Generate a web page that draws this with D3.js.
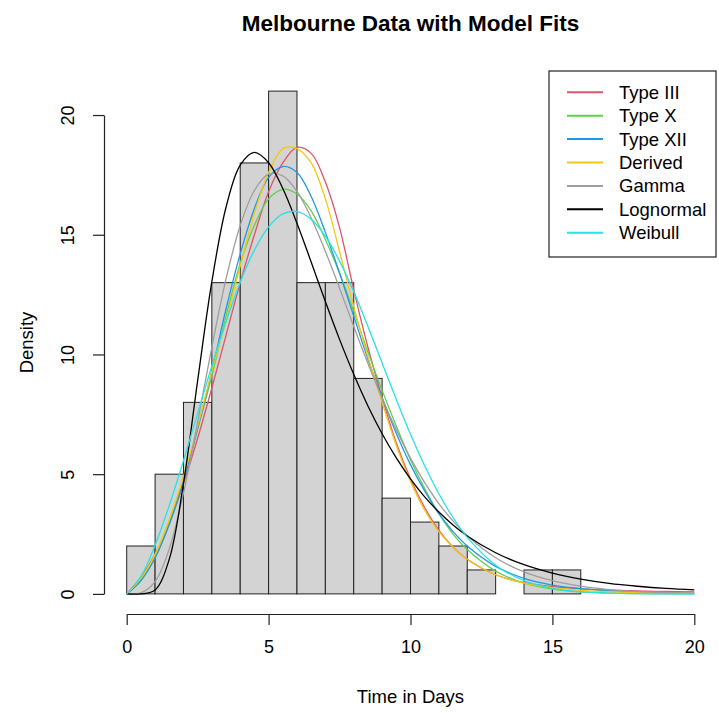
<!DOCTYPE html>
<html>
<head>
<meta charset="utf-8">
<script src="https://cdn.jsdelivr.net/npm/d3@7"></script>
<style>
  body { margin: 0; background: white; }
  text { font-family: "Liberation Sans", Arial, sans-serif; fill: black; }
</style>
</head>
<body>
<div id="chart"></div>
<script>
// histogram bins (days) and heights
var binStarts = [0, 1, 2, 3, 4, 5, 6, 7, 8, 9, 10, 11, 12, 13, 14, 15];
var binHeights = [2, 5, 8, 13, 18, 21, 13, 13, 9, 4, 3, 2, 1, 0, 1, 1];

var tGrid = [0, 0.5, 1, 1.5, 2, 2.5, 3, 3.5, 4, 4.5, 5, 5.5, 6, 6.5, 7, 7.5, 8, 8.5, 9, 9.5, 10, 10.5, 11, 11.5, 12,
             13, 14, 15, 16, 17, 18, 19, 20];

var typeIII = [0, 0.7, 1.65, 2.95, 4.6, 6.5, 8.6, 10.8, 13.0, 15.0, 16.8, 18.0, 18.65, 18.4, 17.2, 15.3, 12.7, 10.3, 8.2, 6.3, 4.8, 3.6, 2.65, 1.95, 1.45,
               0.8, 0.47, 0.3, 0.21, 0.16, 0.12, 0.1, 0.08];
var typeX = [0, 0.6, 1.6, 3.0, 4.8, 6.9, 9.1, 11.6, 13.8, 15.4, 16.5, 16.9, 16.7, 16.0, 14.8, 13.4, 11.8, 10.1, 8.5, 7.0, 5.6, 4.4, 3.35, 2.5, 1.85,
             0.95, 0.45, 0.2, 0.08, 0.03, 0.01, 0, 0];
var typeXII = [0, 0.55, 1.5, 2.9, 4.7, 6.9, 9.3, 11.9, 14.2, 16.1, 17.4, 17.85, 17.6, 16.6, 15.1, 13.4, 11.6, 9.8, 8.2, 6.7, 5.4, 4.3, 3.35, 2.6, 2.0,
               1.15, 0.65, 0.37, 0.22, 0.13, 0.08, 0.05, 0.03];
var derived = [0, 0.65, 1.65, 3.1, 4.9, 7.0, 9.3, 11.4, 13.7, 15.9, 17.6, 18.6, 18.6, 18.0, 16.5, 14.3, 12.0, 9.9, 8.0, 6.2, 4.7, 3.5, 2.6, 1.95, 1.45,
               0.8, 0.45, 0.26, 0.15, 0.09, 0.06, 0.04, 0.03];
var gammaFit = [0, 0.04, 0.51, 1.88, 4.21, 7.18, 10.31, 13.16, 15.39, 16.85, 17.53, 17.46, 16.81, 15.70, 14.31, 12.77, 11.17, 9.62, 8.17, 6.85, 5.67, 4.65, 3.77, 3.04, 2.43,
                1.51, 0.92, 0.55, 0.32, 0.18, 0.10, 0.06, 0.03];
var lognormal = [0, 0, 0.16, 1.45, 4.61, 8.91, 13.04, 16.15, 17.91, 18.44, 18.01, 16.93, 15.48, 13.86, 12.21, 10.63, 9.17, 7.85, 6.69, 5.68, 4.80, 4.05, 3.42, 2.88, 2.42,
                 1.72, 1.22, 0.87, 0.62, 0.44, 0.32, 0.23, 0.17];
var weibull = [0, 0.72, 2.03, 3.69, 5.56, 7.54, 9.52, 11.37, 13.02, 14.36, 15.33, 15.87, 15.97, 15.65, 14.94, 13.90, 12.62, 11.17, 9.64, 8.12, 6.67, 5.35, 4.18, 3.18, 2.36,
               1.20, 0.55, 0.23, 0.08, 0.03, 0.01, 0, 0];

var seriesNames = ["Type III", "Type X", "Type XII", "Derived", "Gamma", "Lognormal", "Weibull"];
var seriesValues = [typeIII, typeX, typeXII, derived, gammaFit, lognormal, weibull];
var seriesColors = ["#DF536B", "#61D04F", "#2297E6", "#F5C710", "#9E9E9E", "#000000", "#28E2E5"];

var xTicks = [0, 5, 10, 15, 20];
var yTicks = [0, 5, 10, 15, 20];

var width = 719, height = 713;

var svg = d3.select("#chart").append("svg")
    .attr("width", width)
    .attr("height", height);

svg.append("rect")
    .attr("width", width)
    .attr("height", height)
    .attr("fill", "white");

// R style plot region: data range plus 4% each side
var x = d3.scaleLinear().domain([-0.8, 20.8]).range([104, 717]);
var y = d3.scaleLinear().domain([-0.84, 21.84]).range([614, 71]);

// histogram bars (empty bin is skipped)
svg.append("g").selectAll("rect")
    .data(binStarts.filter(function(d, i) { return binHeights[i] > 0; }))
    .enter().append("rect")
    .attr("x", function(d) { return x(d); })
    .attr("y", function(d) { return y(binHeights[d]); })
    .attr("width", function(d) { return x(d + 1) - x(d); })
    .attr("height", function(d) { return y(0) - y(binHeights[d]); })
    .attr("fill", "#D3D3D3")
    .attr("stroke", "#222")
    .attr("stroke-width", 1);

// fitted curves
var line = d3.line()
    .x(function(d, i) { return x(tGrid[i]); })
    .y(function(d) { return y(d); })
    .curve(d3.curveCatmullRom.alpha(0.5));

svg.append("g").selectAll("path")
    .data(seriesValues)
    .enter().append("path")
    .attr("d", line)
    .attr("fill", "none")
    .attr("stroke", function(d, i) { return seriesColors[i]; })
    .attr("stroke-width", 1.3);

// x axis (only from 0 to 20 like R)
var xAxisScale = x.copy().domain([0, 20]).range([x(0), x(20)]);
var xAxisG = svg.append("g")
    .attr("transform", "translate(0," + y.range()[0] + ")")
    .call(d3.axisBottom(xAxisScale).tickValues(xTicks).tickSizeInner(11).tickSizeOuter(0));
xAxisG.selectAll("text")
    .attr("y", 39)
    .attr("dy", 0)
    .style("font-size", "18px");

// y axis
var yAxisScale = y.copy().domain([0, 20]).range([y(0), y(20)]);
var yAxisG = svg.append("g")
    .attr("transform", "translate(" + x.range()[0] + ",0)")
    .call(d3.axisLeft(yAxisScale).tickValues(yTicks).tickSizeInner(11).tickSizeOuter(0));
yAxisG.selectAll(".tick text")
    .attr("x", 0)
    .attr("dy", 0)
    .attr("text-anchor", "middle")
    .attr("transform", "translate(-30,0) rotate(-90)")
    .style("font-size", "18px");

svg.selectAll(".domain, .tick line").attr("stroke", "#222").attr("stroke-width", 1.2);

// titles
svg.append("text")
    .attr("x", (x.range()[0] + x.range()[1]) / 2)
    .attr("y", 31)
    .attr("text-anchor", "middle")
    .style("font-size", "22.5px")
    .style("font-weight", "bold")
    .text("Melbourne Data with Model Fits");

svg.append("text")
    .attr("x", (x.range()[0] + x.range()[1]) / 2)
    .attr("y", 703)
    .attr("text-anchor", "middle")
    .style("font-size", "18.5px")
    .text("Time in Days");

svg.append("text")
    .attr("transform", "translate(33," + ((y.range()[0] + y.range()[1]) / 2) + ") rotate(-90)")
    .attr("text-anchor", "middle")
    .style("font-size", "18.5px")
    .text("Density");

// legend in the top right corner
var legend = svg.append("g").attr("transform", "translate(549,71)");
legend.append("rect")
    .attr("width", 167)
    .attr("height", 186)
    .attr("fill", "white")
    .attr("stroke", "#222")
    .attr("stroke-width", 1.2);

var items = legend.selectAll(".item")
    .data(seriesNames)
    .enter().append("g")
    .attr("class", "item")
    .attr("transform", function(d, i) { return "translate(0," + (21.3 + i * 23.4) + ")"; });
items.append("line")
    .attr("x1", 18).attr("x2", 54)
    .attr("stroke", function(d, i) { return seriesColors[i]; })
    .attr("stroke-width", 2);
items.append("text")
    .attr("x", 70)
    .attr("y", 6.5)
    .style("font-size", "18.5px")
    .text(function(d) { return d; });
</script>
</body>
</html>
